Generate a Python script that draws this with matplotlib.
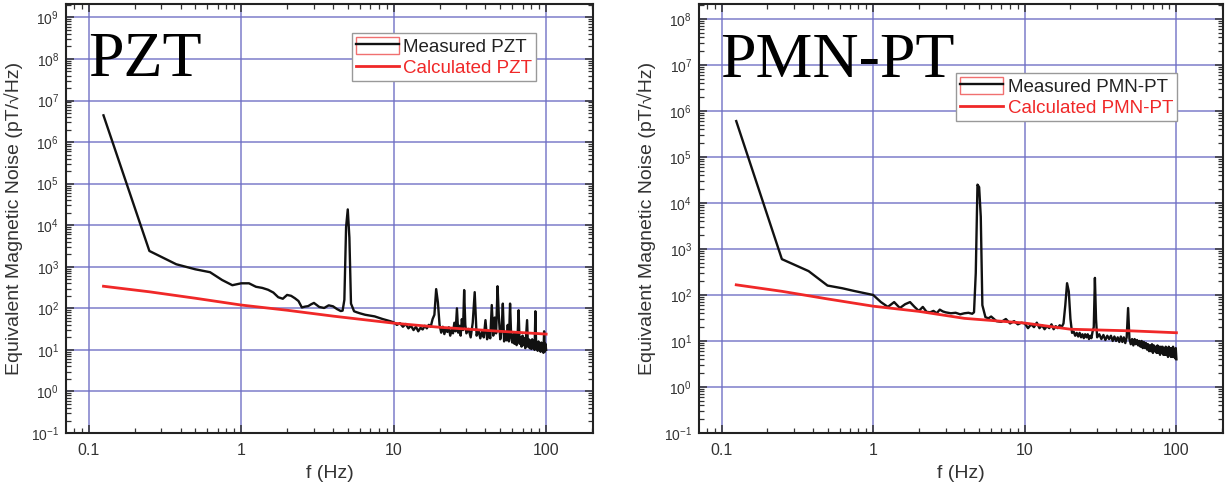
import matplotlib
matplotlib.use('Agg')
import numpy as np
import matplotlib.pyplot as plt
from matplotlib.ticker import LogLocator, LogFormatterMathtext, NullFormatter
from matplotlib.lines import Line2D
from matplotlib.patches import Rectangle

plt.rcParams['font.family'] = ['Liberation Sans', 'DejaVu Sans']
plt.rcParams['mathtext.default'] = 'regular'

# measured spectra share one frequency list (Hz)
freq = [0.125, 0.25, 0.375, 0.5, 0.625, 0.75, 0.875, 1.0, 1.125, 1.25, 1.375, 1.5, 1.625, 1.75, 1.875,
        2.0, 2.125, 2.25, 2.375, 2.5, 2.625, 2.75, 2.875, 3.0, 3.25, 3.5, 3.75, 4.0, 4.25, 4.5, 4.625,
        4.75, 4.875, 5.0, 5.125, 5.25, 5.5, 5.75, 6.0, 6.5, 7.0, 7.5, 8.0, 8.5, 9.0, 9.5,
        10, 10.5, 11, 11.5, 12, 12.5, 13, 13.5, 14, 14.5, 15, 15.5, 16, 16.5, 17, 17.5, 18, 18.5, 19, 19.5,
        20, 20.5, 21, 21.5, 22, 22.5, 23, 23.5, 24, 24.5, 25, 25.5, 26, 26.5, 27, 27.5, 28, 28.5, 29, 29.5, 30,
        31, 32, 33, 34, 35, 36, 37, 38, 39, 40, 41, 42, 43, 44, 45, 46, 47, 48, 49, 50,
        51, 52, 53, 54, 55, 56, 57, 58, 59, 60, 61, 62, 63, 64, 65, 66, 67, 68, 69, 70,
        71, 72, 73, 74, 75, 76, 77, 78, 79, 80, 81, 82, 83, 84, 85, 86, 87, 88, 89, 90,
        91, 92, 93, 94, 95, 96, 97, 98, 99, 100]

pzt_meas = [4.4e6, 2400, 1150, 870, 740, 480, 360, 400, 400, 330, 310, 280, 240, 185, 170,
            210, 200, 175, 150, 105, 110, 113, 125, 135, 108, 102, 118, 112, 96, 86, 88,
            160, 9000, 24000, 5000, 130, 85, 80, 76, 70, 67, 64, 59, 55, 52, 49,
            46, 40, 44, 36, 42, 33, 38, 30, 36, 28, 34, 31, 38, 33, 40, 36, 55, 70, 290, 140,
            40, 26, 36, 24, 33, 27, 35, 22, 30, 25, 45, 28, 100, 26, 38, 22, 55, 30, 275, 40, 25,
            32, 20, 45, 245, 22, 30, 19, 28, 20, 52, 18, 27, 19, 120, 22, 60, 25, 340, 60, 18,
            30, 130, 16, 26, 17, 40, 16, 130, 20, 15, 24, 14, 26, 13, 22, 90, 14, 20, 12, 22,
            13, 19, 11, 24, 52, 12, 18, 11, 17, 10.5, 18, 11, 16, 10, 85, 12, 15, 9.5, 16, 10,
            14, 9, 15, 10, 13, 8.5, 28, 9, 14, 10]

pmn_meas = [6.0e5, 600, 330, 160, 140, 122, 110, 100, 70, 55, 70, 52, 63, 70, 55,
            45, 55, 43, 42, 45, 40, 48, 44, 42, 40, 41, 38, 40, 41, 39, 42,
            300, 25000, 22000, 5000, 60, 33, 31, 34, 27, 26, 30, 24, 27, 23, 25,
            24, 19, 23, 20, 25, 19, 22, 18, 21, 19, 23, 18, 21, 19, 22, 20, 24, 60, 180, 120,
            30, 15, 16, 13, 15, 12.5, 15, 12, 14, 11.5, 14, 12, 14, 11, 13, 11.5, 16, 20, 235, 30, 12,
            14, 11, 13.5, 10.5, 13, 11, 13, 10, 12.5, 10, 12, 9.5, 12.5, 9.5, 12, 9, 12, 52, 11, 8.5,
            11, 8, 11, 8.5, 10.5, 8, 10, 7.5, 10, 7, 9.5, 7, 9, 6.5, 8.5, 6, 8, 6, 8.5, 5.5,
            8, 6, 7.5, 5.5, 8, 5.5, 7.5, 5, 7.5, 5.5, 7.5, 5, 7, 5, 7.5, 5, 7, 4.5, 7.5, 5,
            7, 4.5, 7, 4.5, 7.5, 4.5, 6.5, 4.2, 7, 4]

calc_f = [0.125, 0.25, 0.5, 1, 2, 4, 10, 20, 50, 100]
pzt_calc = [340, 250, 175, 120, 90, 65, 44, 35, 28, 24]
pmn_calc = [166, 120, 82, 57, 44, 31, 24.5, 18, 16.6, 15.1]

x_ticks = [0.1, 1, 10, 100]
x_labels = ['0.1', '1', '10', '100']

grid_c = '#6f6fc4'
red = '#f02828'


def draw_panel(ax, meas, calc, name, ytop, leg_anchor, title_xy):
    ax.plot(freq, meas, color='#111111', lw=1.7, zorder=3)
    ax.plot(calc_f, calc, color=red, lw=2.0, zorder=4)
    ax.set_xscale('log')
    ax.set_yscale('log')
    ax.set_xlim(0.071, 203)
    ax.set_ylim(0.1, ytop)
    ax.set_xticks(x_ticks, labels=x_labels)
    ax.xaxis.set_minor_locator(LogLocator(base=10, subs=np.arange(2, 10), numticks=100))
    ax.xaxis.set_minor_formatter(NullFormatter())
    ax.yaxis.set_major_locator(LogLocator(base=10, numticks=20))
    ax.yaxis.set_major_formatter(LogFormatterMathtext())
    ax.yaxis.set_minor_locator(LogLocator(base=10, subs=np.arange(2, 10), numticks=100))
    ax.yaxis.set_minor_formatter(NullFormatter())
    ax.grid(True, which='major', color=grid_c, lw=1.1, alpha=0.9)
    ax.set_axisbelow(True)
    ax.tick_params(which='both', direction='in', top=True, right=True, colors='#333333')
    ax.tick_params(which='major', length=6, width=1.1)
    ax.tick_params(which='minor', length=3.5, width=0.9)
    ax.tick_params(axis='x', labelsize=11.5, pad=7)
    ax.tick_params(axis='y', labelsize=10, pad=5)
    for s in ax.spines.values():
        s.set_linewidth(1.5)
        s.set_color('#222222')
    ax.set_xlabel('f (Hz)', fontsize=14, color='#333333', labelpad=5)
    ax.set_ylabel('Equivalent Magnetic Noise (pT/\u221aHz)', fontsize=14, color='#333333', labelpad=6)

    ax.text(title_xy[0], title_xy[1], name, transform=ax.transAxes, fontsize=46,
            family='Liberation Serif', va='baseline', ha='left', color='black')

    meas_handle = (Rectangle((0, 0), 1, 1, fill=False, edgecolor='#f07070', lw=1.0),
                   Line2D([], [], color='#111111', lw=1.7))
    calc_handle = Line2D([], [], color=red, lw=2.0)
    leg = ax.legend([meas_handle, calc_handle], ['Measured ' + name, 'Calculated ' + name],
                    loc='upper right', bbox_to_anchor=leg_anchor, borderaxespad=0,
                    fontsize=13.5, handlelength=2.3, handleheight=1.0, handletextpad=0.25,
                    labelspacing=0.15, borderpad=0.2, fancybox=False, framealpha=1)
    leg.get_frame().set_edgecolor('#999999')
    leg.get_frame().set_linewidth(1.0)
    leg.get_texts()[0].set_color('#222222')
    leg.get_texts()[1].set_color(red)


fig = plt.figure(figsize=(12.25, 4.9), dpi=100)
ax1 = fig.add_axes([0.0539, 0.1163, 0.4302, 0.8755])
ax2 = fig.add_axes([0.5706, 0.1163, 0.4278, 0.8755])

draw_panel(ax1, pzt_meas, pzt_calc, 'PZT', 2.1e9, (0.892, 0.932), (0.042, 0.832))
draw_panel(ax2, pmn_meas, pmn_calc, 'PMN-PT', 2.1e8, (0.912, 0.839), (0.04, 0.83))

fig.savefig('out.png', dpi=100)
